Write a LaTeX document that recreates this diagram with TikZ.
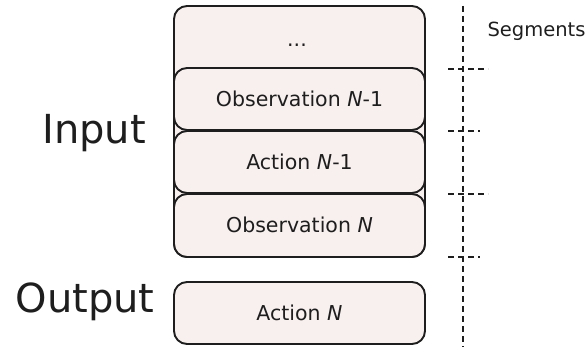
\documentclass[tikz,border=0pt]{standalone}
\usepackage{fontspec}
\setmainfont{DejaVu Sans}
\definecolor{boxfill}{HTML}{F8F0EE}
\definecolor{ink}{HTML}{1E1E1E}
\begin{document}
\begin{tikzpicture}[x=1pt,y=-1pt,
  stack/.style={draw=ink, fill=boxfill, line width=1.9pt, rounded corners=13pt},
  label/.style={font=\fontsize{20.5}{24}\selectfont, text=ink, anchor=center},
  side/.style={font=\fontsize{40}{46}\selectfont, text=ink},
  seg/.style={draw=ink, line width=1.7pt, dash pattern=on 6pt off 4pt},
  ]
  \useasboundingbox (0,0) rectangle (588,347);

  % input stack: outer frame, then the three segment boxes
  \draw[stack] (174,6) rectangle (425,257);
  \node[label] (dots) at (297,45) {...};
  \draw[stack] (174,68) rectangle (425,130);
  \node[label] (obs1) at (299.5,99) {Observation \textit{N}-1};
  \draw[stack] (174,131) rectangle (425,193);
  \node[label] (act1) at (299.5,162) {Action \textit{N}-1};
  \draw[stack] (174,194) rectangle (425,257);
  \node[label] (obs2) at (299.5,225) {Observation \textit{N}};

  % output box
  \draw[stack] (174,282) rectangle (425,344);
  \node[label] (act2) at (299.5,313) {Action \textit{N}};

  % side captions
  \node[side] (input) at (94,133) {Input};
  \node[side] (output) at (85,302) {Output};

  % segment axis with boundary ticks
  \coordinate (axtop) at (463,6);
  \coordinate (axbot) at (463,347);
  \draw[seg] (axtop) -- (axbot);
  \foreach \yy/\len in {69/488, 131/480, 194/488, 257/480}{
    \draw[seg] (448,\yy) -- (\len,\yy);
  }
  \node[font=\fontsize{19.5}{22}\selectfont, text=ink, anchor=west] (segs) at (484,31) {Segments};
\end{tikzpicture}
\end{document}
